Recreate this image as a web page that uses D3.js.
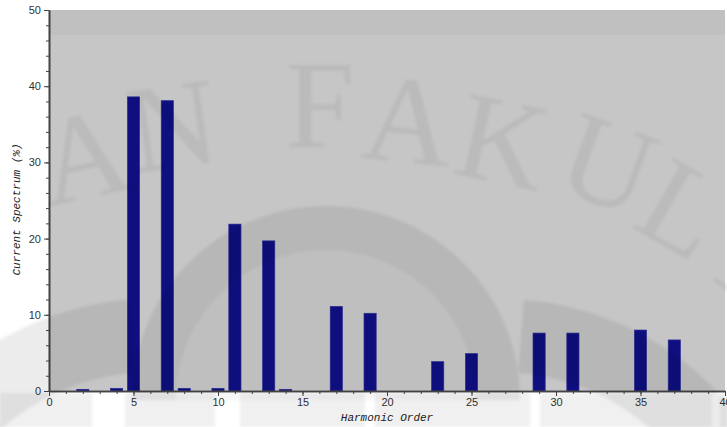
<!DOCTYPE html>
<html>
<head>
<meta charset="utf-8">
<script src="https://cdn.jsdelivr.net/npm/d3@7"></script>
<style>
  html, body { margin: 0; padding: 0; background: #ffffff; }
  svg { display: block; }
  .tick text { font-family: "Liberation Sans", Arial, sans-serif; font-size: 11px; fill: #333333; }
</style>
</head>
<body>
<svg id="chart" width="727" height="427"></svg>
<script>
// Harmonic current spectrum, percent of fundamental
const harmonicOrders = [2, 4, 5, 7, 8, 10, 11, 13, 14, 17, 19, 23, 25, 29, 31, 35, 37];
const spectrumPercent = [0.22, 0.35, 38.6, 38.1, 0.35, 0.35, 21.9, 19.7, 0.22, 11.1, 10.2, 3.85, 4.9, 7.6, 7.6, 8.0, 6.7];
const xTickValues = [0, 5, 10, 15, 20, 25, 30, 35, 40];
const yTickValues = [0, 10, 20, 30, 40, 50];
const xTitle = "Harmonic Order";
const yTitle = "Current Spectrum (%)";

const svg = d3.select("#chart");
const plot = { left: 49, right: 725, top: 10, bottom: 391 };

const x = d3.scaleLinear().domain([0, 40]).range([plot.left, plot.right]);
const y = d3.scaleLinear().domain([0, 50]).range([plot.bottom, plot.top]);

const defs = svg.append("defs");
defs.append("filter").attr("id", "soft")
  .attr("x", "-10%").attr("y", "-10%").attr("width", "120%").attr("height", "120%")
  .append("feGaussianBlur").attr("stdDeviation", 1.6);

// plot background with a slightly darker band along the top
svg.append("rect")
  .attr("x", plot.left).attr("y", plot.top)
  .attr("width", plot.right - plot.left).attr("height", plot.bottom - plot.top)
  .attr("fill", "#c6c6c6");
svg.append("rect")
  .attr("x", plot.left).attr("y", y(50))
  .attr("width", plot.right - plot.left).attr("height", y(46.7) - y(50))
  .attr("fill", "#c0c0c0");

// bars
const barHalf = 0.36;
svg.append("g").selectAll("rect")
  .data(harmonicOrders.map((h, i) => ({ h, v: spectrumPercent[i] })))
  .join("rect")
  .attr("x", d => x(d.h - barHalf))
  .attr("width", d => x(d.h + barHalf) - x(d.h - barHalf))
  .attr("y", d => y(d.v))
  .attr("height", d => y(0) - y(d.v))
  .attr("fill", "#0f0f80")
  .attr("stroke", "#2c2c94")
  .attr("stroke-width", 0.7);

// axes: minor ticks first, then labelled major ticks
const axisColor = "#444444";
function styleAxis(g) {
  g.selectAll("path, line").attr("stroke", axisColor);
  g.select(".domain").attr("stroke-width", 1.6);
}

svg.append("g")
  .attr("transform", `translate(0,${plot.bottom})`)
  .call(d3.axisBottom(x).tickValues(d3.range(0, 41, 1)).tickSize(3).tickFormat("").tickSizeOuter(0))
  .call(styleAxis);
svg.append("g")
  .attr("transform", `translate(0,${plot.bottom})`)
  .call(d3.axisBottom(x).tickValues(xTickValues).tickSize(5).tickPadding(2).tickFormat(d3.format("d")).tickSizeOuter(0))
  .call(styleAxis);

svg.append("g")
  .attr("transform", `translate(${plot.left},0)`)
  .call(d3.axisLeft(y).tickValues(d3.range(0, 51, 2)).tickSize(3).tickFormat("").tickSizeOuter(0))
  .call(styleAxis);
svg.append("g")
  .attr("transform", `translate(${plot.left},0)`)
  .call(d3.axisLeft(y).tickValues(yTickValues).tickSize(5).tickPadding(3).tickFormat(d3.format("d")).tickSizeOuter(0))
  .call(styleAxis);

// axis titles
svg.append("text")
  .attr("x", (plot.left + plot.right) / 2)
  .attr("y", 421)
  .attr("text-anchor", "middle")
  .attr("font-family", "'Liberation Mono', 'Courier New', monospace")
  .attr("font-style", "italic")
  .attr("font-size", 11)
  .attr("fill", "#222")
  .text(xTitle);

svg.append("text")
  .attr("transform", `translate(20,${(plot.top + plot.bottom) / 2 + 9}) rotate(-90)`)
  .attr("text-anchor", "middle")
  .attr("font-family", "'Liberation Mono', 'Courier New', monospace")
  .attr("font-style", "italic")
  .attr("font-size", 11)
  .attr("fill", "#222")
  .text(yTitle);

// faint library stamp printed over the page
const stamp = svg.append("g").attr("pointer-events", "none").attr("filter", "url(#soft)");

const shapes = stamp.append("g").attr("opacity", 0.075).attr("fill", "#000");
const arc = d3.arc();
shapes.append("path")
  .attr("transform", "translate(326,400)")
  .attr("d", arc({ innerRadius: 150, outerRadius: 194, startAngle: -Math.PI / 2, endAngle: Math.PI / 2 }));
shapes.append("path")
  .attr("transform", "translate(500,600)")
  .attr("d", arc({ innerRadius: 228, outerRadius: 301, startAngle: 0.08, endAngle: 1.5 }));
shapes.append("path")
  .attr("transform", "translate(152,600)")
  .attr("d", arc({ innerRadius: 228, outerRadius: 301, startAngle: -1.5, endAngle: -0.08 }));
const stripSpans = [[0, 92], [125, 215], [240, 365], [375, 530], [540, 712], [720, 727]];
stamp.append("g").attr("opacity", 0.06).attr("fill", "#000")
  .selectAll("rect").data(stripSpans).join("rect")
  .attr("x", d => d[0]).attr("width", d => d[1] - d[0])
  .attr("y", plot.bottom + 2).attr("height", 427 - plot.bottom - 2);

stamp.append("g").attr("opacity", 0.03).attr("fill", "#000")
  .append("path")
  .attr("transform", "translate(326,400)")
  .attr("d", arc({ innerRadius: 0, outerRadius: 150, startAngle: -Math.PI / 2, endAngle: Math.PI / 2 }));

const stampLetters = [
  { c: "A", x: 92, y: 197, r: -12 },
  { c: "N", x: 178, y: 167, r: -8 },
  { c: "F", x: 320, y: 147, r: 0 },
  { c: "A", x: 404, y: 162, r: 6 },
  { c: "K", x: 494, y: 182, r: 12 },
  { c: "U", x: 594, y: 203, r: 20 },
  { c: "L", x: 662, y: 245, r: 30 },
  { c: "T", x: 728, y: 292, r: 40 }
];
stamp.append("g").attr("opacity", 0.055).attr("fill", "#000")
  .selectAll("text").data(stampLetters).join("text")
  .attr("transform", d => `translate(${d.x},${d.y}) rotate(${d.r})`)
  .attr("text-anchor", "middle")
  .attr("font-family", "'Liberation Serif', 'Times New Roman', serif")
  .attr("font-size", 124)
  .text(d => d.c);
</script>
</body>
</html>
